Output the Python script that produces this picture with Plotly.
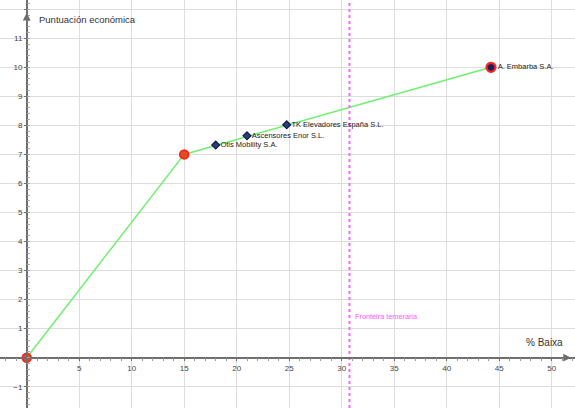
import plotly.graph_objects as go

# Data
line_x = [0, 15, 44.22]
line_y = [0, 7, 10]
red_x = [0, 15]
red_y = [0, 7]
firm_names = ["Otis Mobility S.A.", "Ascensores Enor S.L.", "TK Elevadores España S.L."]
firm_x = [18.0, 20.98, 24.76]
firm_y = [7.32, 7.64, 8.02]
best_name = ["A. Embarba S.A."]
best_x = [44.22]
best_y = [10.0]
frontier_x = 30.74
frontier_label = "Fronteira temeraria"
x_ticks = [0, 5, 10, 15, 20, 25, 30, 35, 40, 45, 50]
x_labels = ["", "5", "10", "15", "20", "25", "30", "35", "40", "45", "50"]
y_ticks = [-1, 0, 1, 2, 3, 4, 5, 6, 7, 8, 9, 10, 11, 12]
y_labels = ["\u22121", "", "1", "2", "3", "4", "5", "6", "7", "8", "9", "10", "11", ""]
x_title = "% Baixa"
y_title = "Puntuación económica"

x_range = [-2.543, 52.22]
y_range = [-1.732, 12.317]

FONT = "Arial, Liberation Sans, sans-serif"
AX = "#6e6e6e"

fig = go.Figure()

fig.add_trace(go.Scatter(x=line_x, y=line_y, mode="lines",
                         line=dict(color="#6ff06f", width=1.5), hoverinfo="skip"))
fig.add_trace(go.Scatter(x=[frontier_x, frontier_x], y=y_range, mode="lines",
                         line=dict(color="#ff66ff", width=2, dash="dot"), hoverinfo="skip"))
fig.add_trace(go.Scatter(x=red_x, y=red_y, mode="markers",
                         marker=dict(size=8.5, color="#d9531e", line=dict(color="#ff2424", width=2))))
fig.add_trace(go.Scatter(x=firm_x, y=firm_y, mode="markers+text", text=firm_names,
                         textposition="middle right",
                         textfont=dict(family=FONT, size=7.5, color="#222"),
                         marker=dict(symbol="diamond", size=6, color="#2c3f7a",
                                     line=dict(color="#0d1a4a", width=1.2))))
fig.add_trace(go.Scatter(x=best_x, y=best_y, mode="markers+text", text=best_name,
                         textposition="middle right",
                         textfont=dict(family=FONT, size=7.5, color="#222"),
                         marker=dict(size=9, color="#1a2060", line=dict(color="#ff2424", width=2.2))))

fig.add_annotation(x=31.08, y=1.41, text=frontier_label, showarrow=False,
                   xanchor="left", yanchor="middle",
                   font=dict(family=FONT, size=7.3, color="#ff55ff"))
fig.add_annotation(x=0.98, y=11.66, text=y_title, showarrow=False, xanchor="left", yanchor="middle",
                   font=dict(family=FONT, size=9.5, color="#333"))
fig.add_annotation(x=47.4, y=0.54, text=x_title, showarrow=False, xanchor="left", yanchor="middle",
                   font=dict(family=FONT, size=10, color="#333"))

# axis arrows
fig.add_annotation(x=0, y=11.88, ax=0, ay=11.4, axref="x", ayref="y", text="", showarrow=True,
                   arrowhead=2, arrowsize=1.1, arrowwidth=1.4, arrowcolor=AX)
fig.add_annotation(x=51.84, y=0, ax=51.0, ay=0, axref="x", ayref="y", text="", showarrow=True,
                   arrowhead=2, arrowsize=1.1, arrowwidth=1.4, arrowcolor=AX)

xpos = (0 - x_range[0]) / (x_range[1] - x_range[0])
ypos = (0 - y_range[0]) / (y_range[1] - y_range[0])

fig.update_layout(
    width=575, height=408,
    margin=dict(l=0, r=0, t=0, b=0),
    paper_bgcolor="white", plot_bgcolor="white",
    showlegend=False,
    font=dict(family=FONT),
    xaxis=dict(range=x_range, anchor="free", position=ypos,
               tickmode="array", tickvals=x_ticks, ticktext=x_labels,
               ticks="outside", ticklen=3, tickcolor=AX,
               tickfont=dict(size=8, color="#444"),
               showgrid=True, gridcolor="#dddddd", gridwidth=1,
               zeroline=False, showline=True, linecolor=AX, linewidth=1.5,
               minor=dict(tickmode="linear", tick0=0, dtick=1, ticks="outside",
                          ticklen=3, tickcolor="#999", showgrid=False)),
    yaxis=dict(range=y_range, anchor="free", position=xpos,
               tickmode="array", tickvals=y_ticks, ticktext=y_labels,
               ticks="outside", ticklen=2, tickcolor=AX,
               tickfont=dict(size=8, color="#444"),
               showgrid=True, gridcolor="#dddddd", gridwidth=1,
               zeroline=False, showline=True, linecolor=AX, linewidth=1.5,
               minor=dict(tickmode="linear", tick0=0, dtick=0.2, ticks="inside",
                          ticklen=3, tickcolor="#aaa", showgrid=False)),
)

fig.write_html("out.html", config={"displayModeBar": False},
               post_script="document.body.style.margin='0';")
